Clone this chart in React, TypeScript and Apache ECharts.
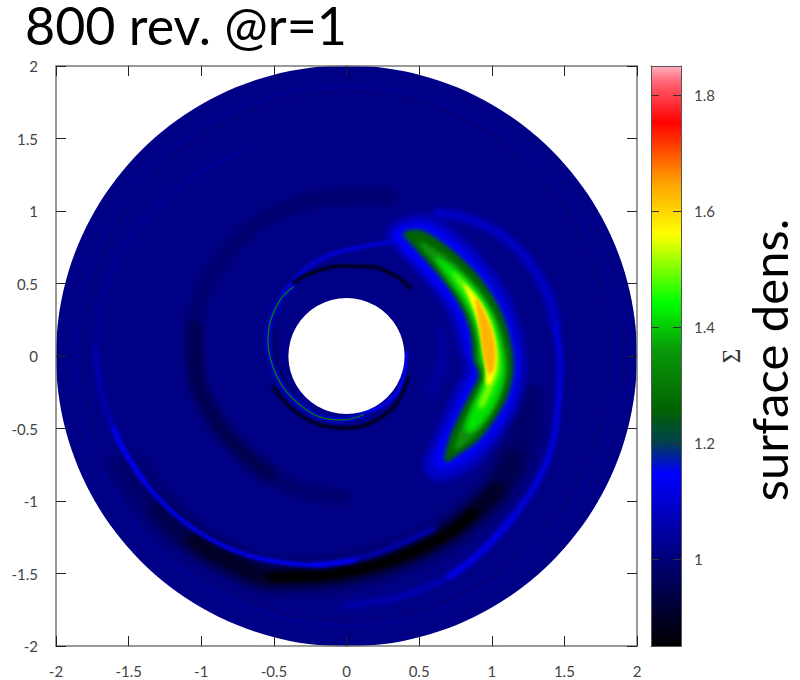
import React, { useEffect, useRef } from "react";
import * as echarts from "echarts";

const barTicks = [1, 1.2, 1.4, 1.6, 1.8];
const barMin = 0.85;
const barMax = 1.85;
const stopValues = [0.85, 1.0, 1.148, 1.2, 1.26, 1.36, 1.443, 1.56, 1.65, 1.753, 1.82, 1.85];
const stopColors = ["#000000", "#000078", "#0000ff", "#004050", "#006400", "#0a9a0a", "#00ff00", "#ffff00", "#ffa000", "#ff0000", "#ff6070", "#ffb0c0"];

const holeRadius = 0.4;
const ringRadii = [2, 1.87, 1.84, 1.8];
const ringValues = [1.015, 1.025, 1.01, 1.015];

const contourValues = [1.09, 1.15, 1.26, 1.34, 1.42, 1.5, 1.56, 1.63];
const contourA = [[.277,.846],[.392,.949],[.576,.961],[.772,.834],[.944,.662],[1.105,.432],[1.197,.179],[1.232,-.074],[1.197,-.304],[1.105,-.488],[.967,-.672],[.783,-.822],[.599,-.856],[.53,-.764],[.599,-.58],[.68,-.396],[.76,-.212],[.818,-.097],[.783,.041],[.737,.202],[.68,.34],[.576,.478],[.461,.616],[.346,.731]];
const contourB = [[.323,.846],[.415,.904],[.565,.904],[.737,.789],[.898,.628],[1.048,.409],[1.14,.179],[1.186,-.074],[1.151,-.281],[1.071,-.454],[.944,-.615],[.783,-.741],[.634,-.776],[.599,-.718],[.657,-.557],[.737,-.396],[.806,-.235],[.864,-.097],[.829,.041],[.795,.19],[.737,.329],[.634,.466],[.507,.605],[.392,.731]];
const contourD = [[.392,.846],[.507,.869],[.668,.777],[.829,.639],[.967,.478],[1.071,.294],[1.128,.11],[1.151,-.074],[1.117,-.258],[1.048,-.396],[.921,-.569],[.783,-.672],[.68,-.73],[.703,-.58],[.772,-.419],[.852,-.258],[.91,-.131],[.875,-.028],[.864,.087],[.841,.214],[.772,.363],[.68,.501],[.565,.639],[.461,.754]];
const contourE = [[.495,.789],[.657,.708],[.806,.582],[.944,.42],[1.036,.248],[1.094,.064],[1.11,-.097],[1.071,-.258],[.99,-.419],[.875,-.557],[.749,-.649],[.76,-.569],[.818,-.419],[.887,-.27],[.933,-.143],[.898,-.028],[.893,.087],[.864,.225],[.795,.375],[.703,.501],[.599,.639]];
const contourF = [[.61,.685],[.772,.582],[.91,.432],[1.013,.26],[1.066,.076],[1.087,-.097],[1.048,-.27],[.967,-.419],[.864,-.523],[.818,-.511],[.864,-.362],[.921,-.235],[.956,-.131],[.921,-.005],[.91,.11],[.875,.248],[.806,.386],[.714,.524]];
const contourG = [[.726,.582],[.852,.466],[.967,.306],[1.031,.122],[1.054,-.074],[1.013,-.212],[.933,-.362],[.91,-.339],[.956,-.212],[.972,-.109],[.944,.018],[.928,.144],[.887,.294],[.818,.432]];
const contourH = [[.81,.5],[.933,.35],[1.012,.16],[1.035,-.03],[1.005,-.17],[.965,-.2],[.955,-.074],[.932,.087],[.895,.26],[.845,.4]];
const contourI = [[.89,.4],[.97,.26],[1.02,.09],[1.02,-.07],[.985,-.13],[.945,-.01],[.92,.17]];
const contours = [contourA, contourB, contourD, contourE, contourF, contourG, contourH, contourI];
const contourBlur = [7, 4, 4, 4, 4, 4, 3, 3];

const darkBandFull = [[-1.511,-.766],[-1.284,-1.062],[-1.057,-1.269],[-.823,-1.407],[-.506,-1.524],[-.134,-1.51],[.251,-1.428],[.527,-1.317],[.733,-1.2],[.871,-1.083],[1.036,-.924],[1.146,-.717],[1.208,-.559],[1.235,-.3]];
const darkBandMid = [[-1.284,-1.062],[-1.057,-1.269],[-.823,-1.407],[-.506,-1.524],[-.134,-1.51],[.251,-1.428],[.527,-1.317],[.733,-1.2],[.871,-1.083],[1.036,-.924],[1.146,-.717]];
const darkBandCore = [[-1.057,-1.269],[-.823,-1.407],[-.506,-1.524],[-.134,-1.51],[.251,-1.428],[.527,-1.317],[.733,-1.2],[.871,-1.083],[1.036,-.924]];
const darkBandPeak = [[-.506,-1.524],[-.134,-1.51],[.251,-1.428],[.527,-1.317],[.733,-1.2],[.871,-1.083]];
const darkMidRing = [[.3,1.1],[-.045,1.097],[-.32,1.055],[-.63,.903],[-.905,.593],[-1.04,.214],[-1.04,-.097],[-.905,-.441],[-.733,-.648],[-.527,-.82],[-.32,-.924],[-.01,-.972]];
const darkMidStrong = [[-1.05,.2],[-1.04,-.097],[-.905,-.441],[-.733,-.648],[-.527,-.82]];
const outerArmFaint = [[.0,-1.72],[.37,-1.66],[.71,-1.52],[.94,-1.34],[1.146,-1.11]];
const outerArmLower = [[.71,-1.52],[.94,-1.34],[1.146,-1.11],[1.31,-.875],[1.42,-.6],[1.46,-.3],[1.47,-.05],[1.44,.2]];
const outerArmUpper = [[1.44,.2],[1.4,.386],[1.31,.572],[1.17,.75],[1.01,.869],[.8,.958],[.62,.986]];
const lowerArmFaint = [[-1.73,.05],[-1.676,-.303],[-1.56,-.6],[-1.4,-.855]];
const lowerArmTail = [[-.23,-1.441],[-.045,-1.42],[.18,-1.37],[.416,-1.276],[.6,-1.19]];
const lowerArm = [[-1.6,-.5],[-1.56,-.6],[-1.4,-.855],[-1.215,-1.06],[-1.009,-1.22],[-.78,-1.338],[-.547,-1.407],[-.23,-1.441],[.05,-1.41]];
const faintUpperArm = [[-1.73,.05],[-1.65,.5],[-1.42,.9],[-1.05,1.24],[-.7,1.42]];
const innerDarkTop = [[-.368,.503],[-.272,.559],[-.045,.621],[.182,.614],[.348,.545],[.44,.47]];
const innerDarkBottom = [[-.506,-.214],[-.368,-.372],[-.182,-.476],[.024,-.497],[.21,-.441],[.348,-.324],[.423,-.145]];
const innerDarkLeft = [[-.492,.179],[-.492,.021],[-.444,-.145],[-.368,-.255]];
const innerGreenLine = [[-.368,.476],[-.458,.386],[-.527,.228],[-.54,.09],[-.506,-.076],[-.437,-.214],[-.32,-.338],[-.182,-.421],[-.024,-.441],[.114,-.407]];
const tipArm = [[-.437,.434],[-.272,.607],[-.114,.697],[.072,.745],[.251,.779],[.389,.8]];
const holeBlueArc = [[.416,.021],[.389,-.145],[.348,-.255],[.231,-.352],[.093,-.393]];
const rightFaintArc = [[.644,.179],[.664,.062],[.644,-.097],[.575,-.255]];

const lineFeatures: [number[][], number, number, number][] = [
  [darkMidRing, 0.985, 14, 10],
  [darkMidStrong, 0.95, 14, 9],
  [darkBandFull, 0.985, 34, 12],
  [darkBandMid, 0.95, 24, 9],
  [darkBandCore, 0.9, 16, 7],
  [darkBandPeak, 0.85, 10, 5],
  [faintUpperArm, 1.035, 4, 4],
  [outerArmFaint, 1.08, 5, 5],
  [outerArmLower, 1.13, 5, 4],
  [outerArmUpper, 1.1, 8, 6],
  [lowerArmFaint, 1.08, 4, 4],
  [lowerArmTail, 1.08, 5, 4],
  [lowerArm, 1.14, 4, 3],
  [rightFaintArc, 1.05, 9, 8],
  [tipArm, 1.11, 4, 3],
  [innerDarkLeft, 0.96, 3, 2],
  [innerDarkTop, 0.86, 3, 2],
  [innerDarkBottom, 0.87, 3, 2],
  [holeBlueArc, 1.148, 3, 2],
  [innerGreenLine, 1.1, 5, 3],
  [innerGreenLine, 1.3, 1.3, 0],
];

function hexToRgb(h: string) {
  return [1, 3, 5].map((i) => parseInt(h.slice(i, i + 2), 16));
}
function colorOf(v: number) {
  for (let i = 1; i < stopValues.length; i++) {
    if (v <= stopValues[i]) {
      const t = (v - stopValues[i - 1]) / (stopValues[i] - stopValues[i - 1]);
      const a = hexToRgb(stopColors[i - 1]);
      const b = hexToRgb(stopColors[i]);
      return `rgb(${a.map((c, k) => Math.round(c + (b[k] - c) * t)).join(",")})`;
    }
  }
  return stopColors[stopColors.length - 1];
}

const tickFont = { color: "#444", fontSize: 15, fontFamily: "Lato" };

export default function App() {
  const ref = useRef<HTMLDivElement>(null);
  useEffect(() => {
    const chart = echarts.init(ref.current!, undefined, { renderer: "svg" });
    const frame = { show: true, onZero: false, lineStyle: { color: "#777", width: 1.5 } };
    const tick = { show: true, inside: true, length: 10, lineStyle: { color: "#222", width: 1 } };
    const mainAxis = (position: string, labelled: boolean, margin: number) => ({
      type: "value", position, gridIndex: 0, min: -2, max: 2, interval: 0.5, z: 20,
      axisLine: frame, axisTick: tick, splitLine: { show: false },
      axisLabel: { show: labelled, margin, ...tickFont },
    });
    const barXAxis = (position: string) => ({
      type: "value", position, gridIndex: 1, min: 0, max: 1, z: 20,
      axisLine: { ...frame, lineStyle: { color: "#555", width: 1 } },
      axisTick: { show: false }, axisLabel: { show: false }, splitLine: { show: false },
    });
    const barYAxis = (position: string, labelled: boolean) => ({
      type: "value", position, gridIndex: 1, min: barMin, max: barMax, z: 20,
      axisLine: { ...frame, lineStyle: { color: "#555", width: 1 } },
      axisTick: { show: true, inside: true, length: 8, customValues: barTicks, lineStyle: { color: "#333", width: 1 } },
      axisLabel: { show: labelled, customValues: barTicks, margin: 13, ...tickFont },
      splitLine: { show: false },
      ...(labelled ? {
        name: "Σ", nameLocation: "middle", nameRotate: 90, nameGap: 36,
        nameTextStyle: { fontFamily: "Liberation Serif", fontSize: 25, color: "#333" },
      } : {}),
    });

    const series: any[] = [
      {
        type: "custom", coordinateSystem: "cartesian2d", xAxisIndex: 0, yAxisIndex: 0, silent: true, z: 2, clip: false,
        data: ringRadii.map((r, i) => [r, 0, ringValues[i]]),
        encode: { x: 0, y: 1 },
        renderItem: (_p: any, api: any) => {
          const c = api.coord([0, 0]);
          const e = api.coord([api.value(0), 0]);
          return { type: "circle", shape: { cx: c[0], cy: c[1], r: e[0] - c[0] }, style: { fill: colorOf(api.value(2)) } };
        },
      },
      ...lineFeatures.map(([pts, v, width, blur], i) => ({
        type: "line", xAxisIndex: 0, yAxisIndex: 0, data: pts, symbol: "none", smooth: 0.35, silent: true, z: 3 + i * 0.01,
        lineStyle: { color: colorOf(v), width, cap: "round", join: "round", shadowBlur: blur, shadowColor: colorOf(v) },
      })),
      {
        type: "custom", coordinateSystem: "cartesian2d", xAxisIndex: 0, yAxisIndex: 0, silent: true, z: 4, clip: false,
        data: contourValues.map((v) => [0, 0, v]),
        encode: { x: 0, y: 1 },
        renderItem: (p: any, api: any) => {
          const fill = colorOf(api.value(2));
          return {
            type: "polygon",
            shape: { points: contours[p.dataIndex].map((q) => api.coord(q)), smooth: 0.35 },
            style: { fill, shadowBlur: contourBlur[p.dataIndex], shadowColor: fill },
          };
        },
      },
      {
        type: "custom", coordinateSystem: "cartesian2d", xAxisIndex: 0, yAxisIndex: 0, silent: true, z: 5, clip: false,
        data: [[holeRadius, 0]],
        encode: { x: 0, y: 1 },
        renderItem: (_p: any, api: any) => {
          const c = api.coord([0, 0]);
          const e = api.coord([api.value(0), 0]);
          return { type: "circle", shape: { cx: c[0], cy: c[1], r: e[0] - c[0] }, style: { fill: "#fff" } };
        },
      },
      {
        type: "custom", coordinateSystem: "cartesian2d", xAxisIndex: 2, yAxisIndex: 2, silent: true, z: 2, clip: false,
        data: [[0, barMin, 1, barMax]],
        encode: { x: [0, 2], y: [1, 3] },
        renderItem: (_p: any, api: any) => {
          const a = api.coord([api.value(0), api.value(3)]);
          const b = api.coord([api.value(2), api.value(1)]);
          return {
            type: "rect",
            shape: { x: a[0], y: a[1], width: b[0] - a[0], height: b[1] - a[1] },
            style: {
              fill: new echarts.graphic.LinearGradient(0, 1, 0, 0, stopValues.map((v, i) => ({
                offset: (v - barMin) / (barMax - barMin), color: stopColors[i],
              }))),
            },
          };
        },
      },
    ];

    chart.setOption({
      animation: false,
      backgroundColor: "#fff",
      title: {
        text: "800 rev. @r=1", left: 25, top: -1, padding: 0,
        textStyle: { fontFamily: "Lato", fontWeight: "normal", fontSize: 52, color: "#000" },
      },
      grid: [
        { left: 56, top: 66, width: 581, height: 580 },
        { left: 651, top: 66, width: 30, height: 580 },
      ],
      xAxis: [mainAxis("bottom", true, 17), mainAxis("top", false, 0), barXAxis("bottom"), barXAxis("top")],
      yAxis: [mainAxis("left", true, 18), mainAxis("right", false, 0), barYAxis("right", true), barYAxis("left", false)],
      graphic: [{
        type: "text", x: 769, y: 360, rotation: Math.PI / 2,
        style: { text: "surface dens.", fontFamily: "Lato", fontSize: 49, fill: "#000", align: "center", verticalAlign: "middle" },
      }],
      series,
    });

    // Soft shading: the shadow filters of the density layers become plain Gaussian blurs.
    const soften = () => {
      ref.current?.querySelectorAll("feDropShadow").forEach((el) => {
        const blur = document.createElementNS("http://www.w3.org/2000/svg", "feGaussianBlur");
        blur.setAttribute("stdDeviation", el.getAttribute("stdDeviation") || "0");
        el.parentNode?.replaceChild(blur, el);
      });
    };
    soften();
    chart.on("finished", soften);
    return () => chart.dispose();
  }, []);
  return <div ref={ref} style={{ position: "absolute", left: 0, top: 0, width: 800, height: 680 }} />;
}
